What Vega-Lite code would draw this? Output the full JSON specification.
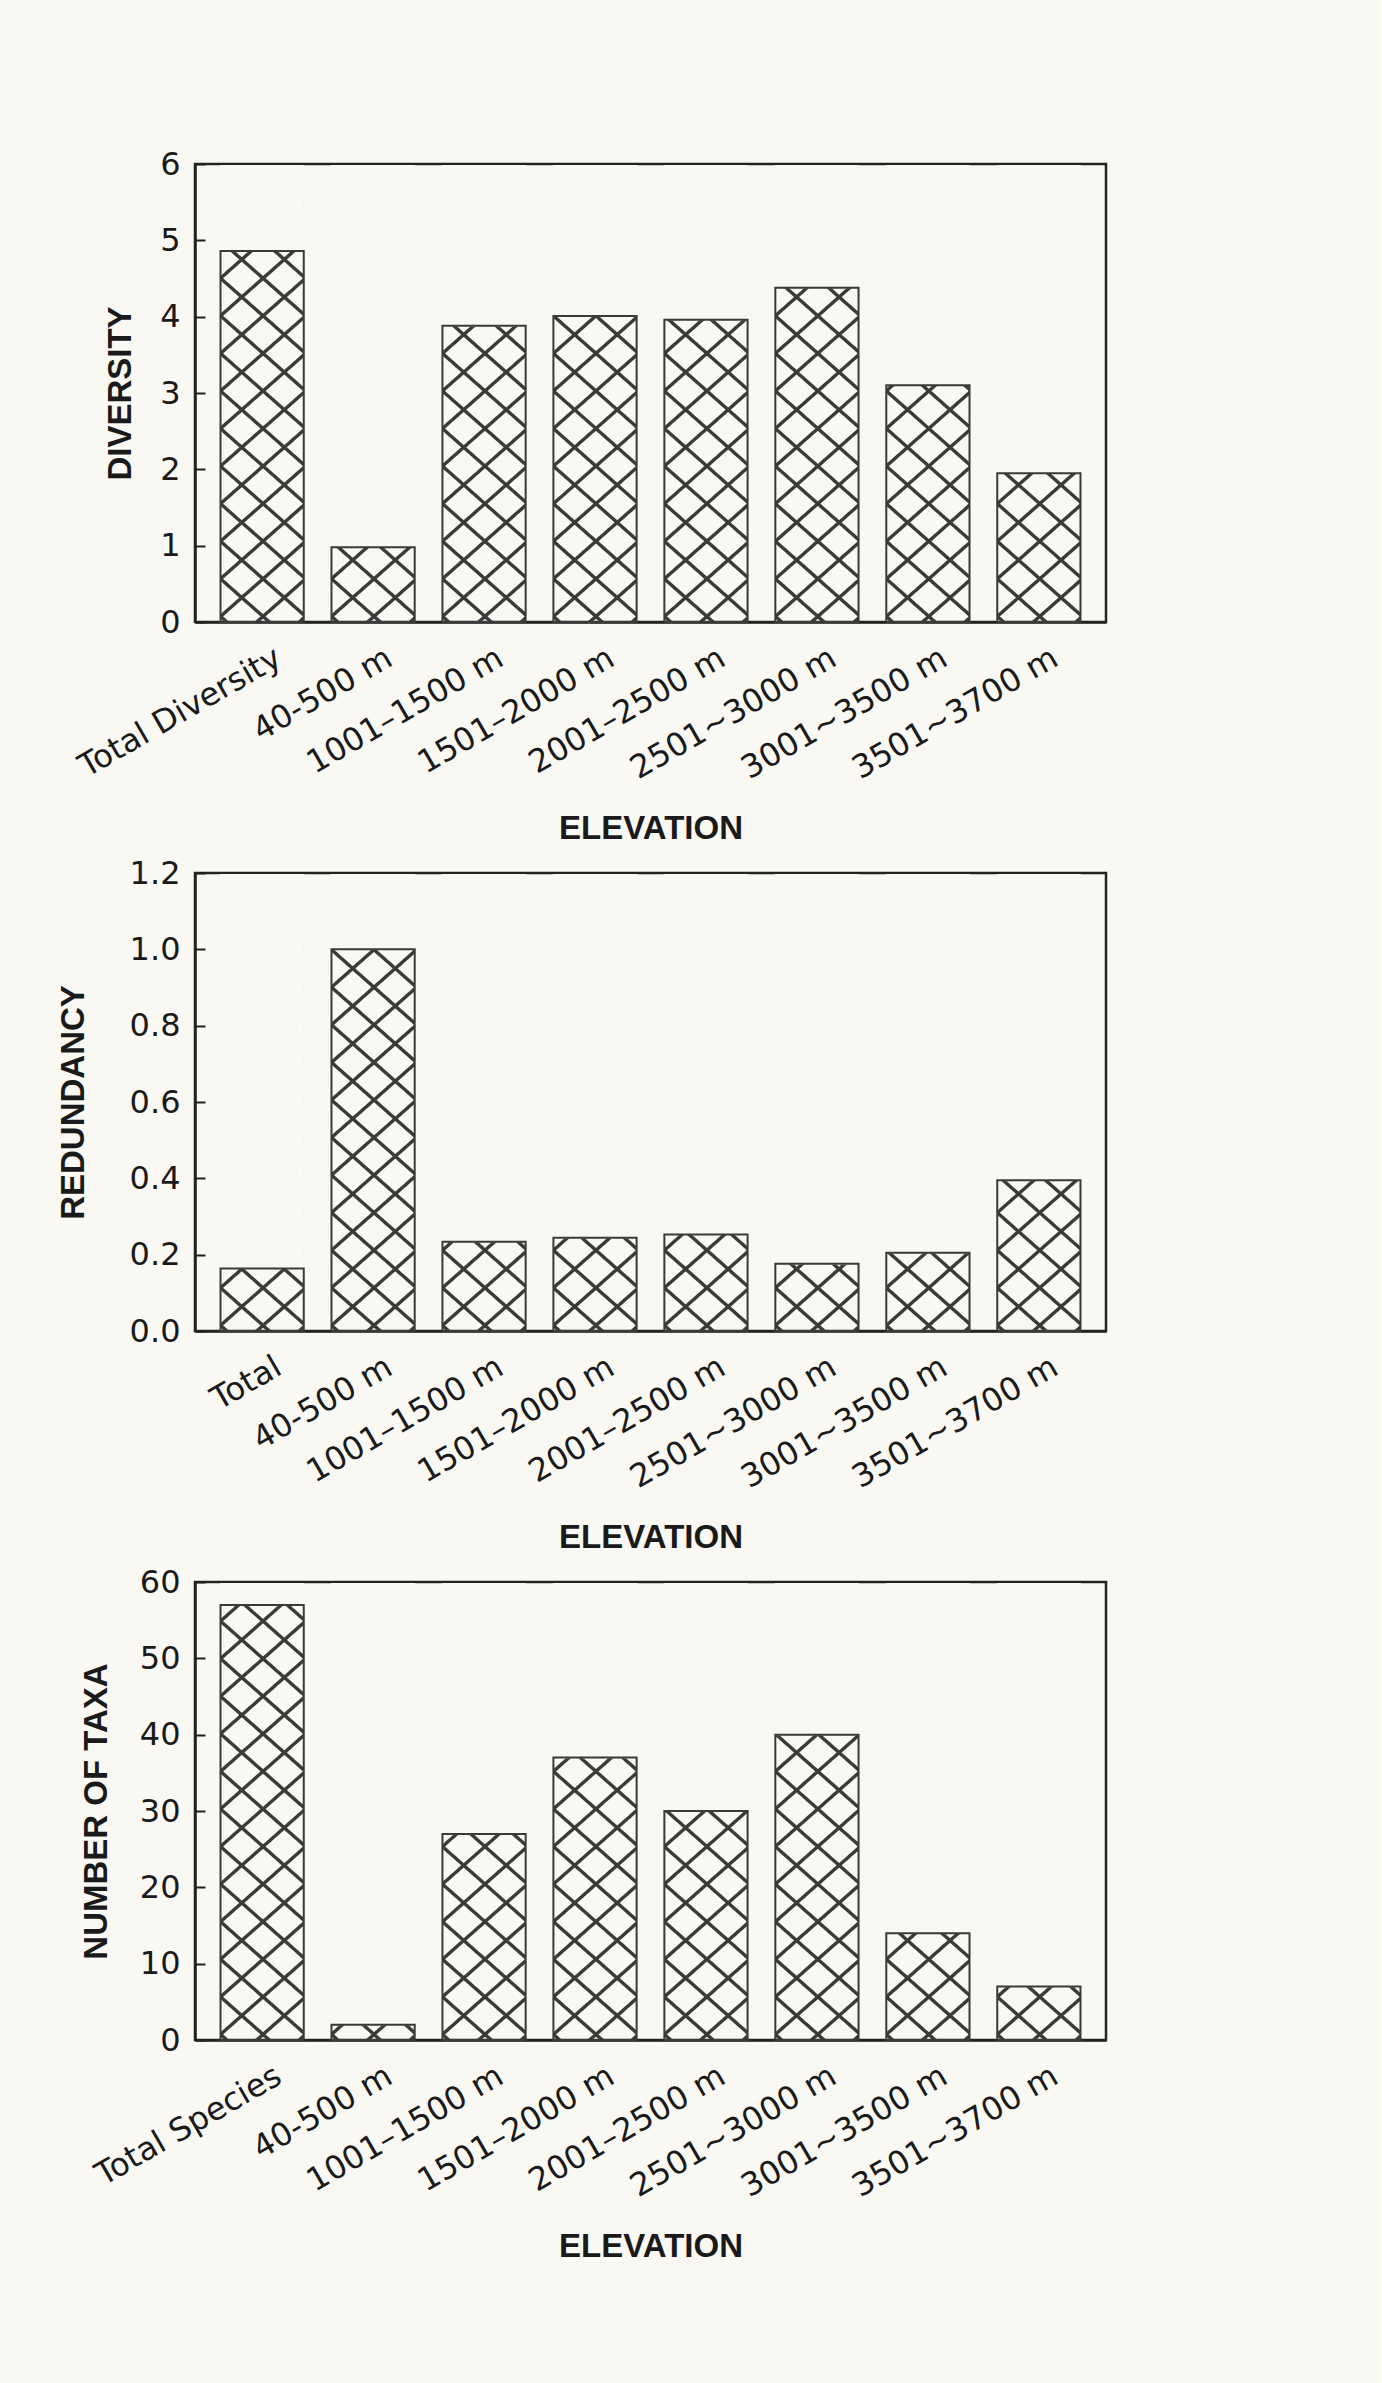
{
  "$schema": "https://vega.github.io/schema/vega-lite/v6.json",
  "background": "#f9f8f3",
  "padding": {"left": 55, "top": 146, "right": 273, "bottom": 145},
  "bounds": "flush",
  "spacing": 251,
  "config": {
    "font": "Liberation Sans",
    "view": {"stroke": "#222222", "strokeWidth": 2.5},
    "axis": {"grid": false, "zindex": 1, "domainColor": "#222222", "domainWidth": 2.5, "labelColor": "#1a1a1a", "titleColor": "#1a1a1a", "labelFont": "DejaVu Sans", "titleFont": "Liberation Sans", "titleFontWeight": "bold", "titleFontSize": 33, "labelLimit": 500},
    "axisX": {"ticks": false, "labelAngle": -30, "labelAlign": "right", "labelBaseline": "top", "labelFontSize": 32, "labelPadding": 20, "labelOffset": 9, "labelOverlap": false, "labelBound": false, "titlePadding": 28},
    "axisY": {"tickCount": 6, "tickSize": -10, "tickColor": "#222222", "tickWidth": 2, "labelFontSize": 32, "labelPadding": 25, "labelFlush": false, "labelOverlap": false, "titlePadding": 24},
    "scale": {"bandPaddingInner": 0.25, "bandPaddingOuter": 0.23}
  },
  "vconcat": [
    {
      "width": 911, "height": 458,
      "data": {"values": [
        {"elevation": "Total Diversity", "value": 4.86},
        {"elevation": "40-500 m", "value": 0.98},
        {"elevation": "1001–1500 m", "value": 3.88},
        {"elevation": "1501–2000 m", "value": 4.01},
        {"elevation": "2001–2500 m", "value": 3.96},
        {"elevation": "2501~3000 m", "value": 4.38},
        {"elevation": "3001~3500 m", "value": 3.1},
        {"elevation": "3501~3700 m", "value": 1.95}
      ]},
      "encoding": {"x": {"field": "elevation", "type": "nominal", "sort": null, "title": "ELEVATION"}},
      "layer": [
        {"mark": {"type": "bar", "stroke": null, "fill": {"gradient": "linear", "x1": 0, "y1": 0, "x2": 0.1824, "y2": 1.1318, "stops": [
          {"offset": 0, "color": "#3a3a3a"}, {"offset": 0.003, "color": "#3a3a3a"}, {"offset": 0.0055, "color": "rgba(58,58,58,0)"},
          {"offset": 0.0654, "color": "rgba(58,58,58,0)"}, {"offset": 0.0679, "color": "#3a3a3a"}, {"offset": 0.0739, "color": "#3a3a3a"}, {"offset": 0.0764, "color": "rgba(58,58,58,0)"},
          {"offset": 0.1362, "color": "rgba(58,58,58,0)"}, {"offset": 0.1388, "color": "#3a3a3a"}, {"offset": 0.1448, "color": "#3a3a3a"}, {"offset": 0.1473, "color": "rgba(58,58,58,0)"},
          {"offset": 0.2071, "color": "rgba(58,58,58,0)"}, {"offset": 0.2096, "color": "#3a3a3a"}, {"offset": 0.2157, "color": "#3a3a3a"}, {"offset": 0.2182, "color": "rgba(58,58,58,0)"},
          {"offset": 0.278, "color": "rgba(58,58,58,0)"}, {"offset": 0.2805, "color": "#3a3a3a"}, {"offset": 0.2866, "color": "#3a3a3a"}, {"offset": 0.2891, "color": "rgba(58,58,58,0)"},
          {"offset": 0.3489, "color": "rgba(58,58,58,0)"}, {"offset": 0.3514, "color": "#3a3a3a"}, {"offset": 0.3575, "color": "#3a3a3a"}, {"offset": 0.36, "color": "rgba(58,58,58,0)"},
          {"offset": 0.4198, "color": "rgba(58,58,58,0)"}, {"offset": 0.4223, "color": "#3a3a3a"}, {"offset": 0.4283, "color": "#3a3a3a"}, {"offset": 0.4309, "color": "rgba(58,58,58,0)"},
          {"offset": 0.4907, "color": "rgba(58,58,58,0)"}, {"offset": 0.4932, "color": "#3a3a3a"}, {"offset": 0.4992, "color": "#3a3a3a"}, {"offset": 0.5017, "color": "rgba(58,58,58,0)"},
          {"offset": 0.5616, "color": "rgba(58,58,58,0)"}, {"offset": 0.5641, "color": "#3a3a3a"}, {"offset": 0.5701, "color": "#3a3a3a"}, {"offset": 0.5726, "color": "rgba(58,58,58,0)"},
          {"offset": 0.6325, "color": "rgba(58,58,58,0)"}, {"offset": 0.635, "color": "#3a3a3a"}, {"offset": 0.641, "color": "#3a3a3a"}, {"offset": 0.6435, "color": "rgba(58,58,58,0)"},
          {"offset": 0.7033, "color": "rgba(58,58,58,0)"}, {"offset": 0.7059, "color": "#3a3a3a"}, {"offset": 0.7119, "color": "#3a3a3a"}, {"offset": 0.7144, "color": "rgba(58,58,58,0)"},
          {"offset": 0.7742, "color": "rgba(58,58,58,0)"}, {"offset": 0.7767, "color": "#3a3a3a"}, {"offset": 0.7828, "color": "#3a3a3a"}, {"offset": 0.7853, "color": "rgba(58,58,58,0)"},
          {"offset": 0.8451, "color": "rgba(58,58,58,0)"}, {"offset": 0.8476, "color": "#3a3a3a"}, {"offset": 0.8537, "color": "#3a3a3a"}, {"offset": 0.8562, "color": "rgba(58,58,58,0)"},
          {"offset": 0.916, "color": "rgba(58,58,58,0)"}, {"offset": 0.9185, "color": "#3a3a3a"}, {"offset": 0.9246, "color": "#3a3a3a"}, {"offset": 0.9271, "color": "rgba(58,58,58,0)"},
          {"offset": 0.9869, "color": "rgba(58,58,58,0)"}, {"offset": 0.9894, "color": "#3a3a3a"}, {"offset": 0.9954, "color": "#3a3a3a"}, {"offset": 0.9979, "color": "rgba(58,58,58,0)"},
          {"offset": 1, "color": "rgba(58,58,58,0)"}]}},
         "encoding": {"y": {"datum": 5.98, "type": "quantitative", "scale": {"domain": [0, 6], "nice": false}, "title": "DIVERSITY", "axis": {"titlePadding": 22}}, "y2": {"datum": 0}}},
        {"mark": {"type": "bar", "stroke": null, "fill": {"gradient": "linear", "x1": 0, "y1": 1, "x2": 0.1824, "y2": -0.1318, "stops": [
          {"offset": 0, "color": "rgba(58,58,58,0)"},
          {"offset": 0.005, "color": "rgba(58,58,58,0)"}, {"offset": 0.0075, "color": "#3a3a3a"}, {"offset": 0.0136, "color": "#3a3a3a"}, {"offset": 0.0161, "color": "rgba(58,58,58,0)"},
          {"offset": 0.0759, "color": "rgba(58,58,58,0)"}, {"offset": 0.0784, "color": "#3a3a3a"}, {"offset": 0.0845, "color": "#3a3a3a"}, {"offset": 0.087, "color": "rgba(58,58,58,0)"},
          {"offset": 0.1468, "color": "rgba(58,58,58,0)"}, {"offset": 0.1493, "color": "#3a3a3a"}, {"offset": 0.1554, "color": "#3a3a3a"}, {"offset": 0.1579, "color": "rgba(58,58,58,0)"},
          {"offset": 0.2177, "color": "rgba(58,58,58,0)"}, {"offset": 0.2202, "color": "#3a3a3a"}, {"offset": 0.2262, "color": "#3a3a3a"}, {"offset": 0.2288, "color": "rgba(58,58,58,0)"},
          {"offset": 0.2886, "color": "rgba(58,58,58,0)"}, {"offset": 0.2911, "color": "#3a3a3a"}, {"offset": 0.2971, "color": "#3a3a3a"}, {"offset": 0.2996, "color": "rgba(58,58,58,0)"},
          {"offset": 0.3595, "color": "rgba(58,58,58,0)"}, {"offset": 0.362, "color": "#3a3a3a"}, {"offset": 0.368, "color": "#3a3a3a"}, {"offset": 0.3705, "color": "rgba(58,58,58,0)"},
          {"offset": 0.4304, "color": "rgba(58,58,58,0)"}, {"offset": 0.4329, "color": "#3a3a3a"}, {"offset": 0.4389, "color": "#3a3a3a"}, {"offset": 0.4414, "color": "rgba(58,58,58,0)"},
          {"offset": 0.5012, "color": "rgba(58,58,58,0)"}, {"offset": 0.5038, "color": "#3a3a3a"}, {"offset": 0.5098, "color": "#3a3a3a"}, {"offset": 0.5123, "color": "rgba(58,58,58,0)"},
          {"offset": 0.5721, "color": "rgba(58,58,58,0)"}, {"offset": 0.5746, "color": "#3a3a3a"}, {"offset": 0.5807, "color": "#3a3a3a"}, {"offset": 0.5832, "color": "rgba(58,58,58,0)"},
          {"offset": 0.643, "color": "rgba(58,58,58,0)"}, {"offset": 0.6455, "color": "#3a3a3a"}, {"offset": 0.6516, "color": "#3a3a3a"}, {"offset": 0.6541, "color": "rgba(58,58,58,0)"},
          {"offset": 0.7139, "color": "rgba(58,58,58,0)"}, {"offset": 0.7164, "color": "#3a3a3a"}, {"offset": 0.7225, "color": "#3a3a3a"}, {"offset": 0.725, "color": "rgba(58,58,58,0)"},
          {"offset": 0.7848, "color": "rgba(58,58,58,0)"}, {"offset": 0.7873, "color": "#3a3a3a"}, {"offset": 0.7933, "color": "#3a3a3a"}, {"offset": 0.7959, "color": "rgba(58,58,58,0)"},
          {"offset": 0.8557, "color": "rgba(58,58,58,0)"}, {"offset": 0.8582, "color": "#3a3a3a"}, {"offset": 0.8642, "color": "#3a3a3a"}, {"offset": 0.8667, "color": "rgba(58,58,58,0)"},
          {"offset": 0.9266, "color": "rgba(58,58,58,0)"}, {"offset": 0.9291, "color": "#3a3a3a"}, {"offset": 0.9351, "color": "#3a3a3a"}, {"offset": 0.9376, "color": "rgba(58,58,58,0)"},
          {"offset": 1, "color": "rgba(58,58,58,0)"}]}},
         "encoding": {"y": {"datum": 5.98, "type": "quantitative", "scale": {"domain": [0, 6], "nice": false}, "title": "DIVERSITY", "axis": {"titlePadding": 22}}, "y2": {"datum": 0}}},
        {"mark": {"type": "bar", "fill": "#f9f8f3", "stroke": "#f9f8f3", "strokeWidth": 1.2}, "encoding": {"y": {"field": "value", "type": "quantitative", "scale": {"domain": [0, 6], "nice": false}, "title": "DIVERSITY", "axis": {"titlePadding": 22}}, "y2": {"datum": 5.98}}},
        {"mark": {"type": "bar", "fill": "transparent", "stroke": "#3a3a3a", "strokeWidth": 2}, "encoding": {"y": {"field": "value", "type": "quantitative", "scale": {"domain": [0, 6], "nice": false}, "title": "DIVERSITY", "axis": {"titlePadding": 22}}}}
      ]
    },
    {
      "width": 911, "height": 458,
      "data": {"values": [
        {"elevation": "Total", "value": 0.164},
        {"elevation": "40-500 m", "value": 1.0},
        {"elevation": "1001–1500 m", "value": 0.234},
        {"elevation": "1501–2000 m", "value": 0.244},
        {"elevation": "2001–2500 m", "value": 0.253},
        {"elevation": "2501~3000 m", "value": 0.176},
        {"elevation": "3001~3500 m", "value": 0.205},
        {"elevation": "3501~3700 m", "value": 0.395}
      ]},
      "encoding": {"x": {"field": "elevation", "type": "nominal", "sort": null, "title": "ELEVATION"}},
      "layer": [
        {"mark": {"type": "bar", "stroke": null, "fill": {"gradient": "linear", "x1": 0, "y1": 0, "x2": 0.1824, "y2": 1.1318, "stops": [
          {"offset": 0, "color": "#3a3a3a"}, {"offset": 0.003, "color": "#3a3a3a"}, {"offset": 0.0055, "color": "rgba(58,58,58,0)"},
          {"offset": 0.0654, "color": "rgba(58,58,58,0)"}, {"offset": 0.0679, "color": "#3a3a3a"}, {"offset": 0.0739, "color": "#3a3a3a"}, {"offset": 0.0764, "color": "rgba(58,58,58,0)"},
          {"offset": 0.1362, "color": "rgba(58,58,58,0)"}, {"offset": 0.1388, "color": "#3a3a3a"}, {"offset": 0.1448, "color": "#3a3a3a"}, {"offset": 0.1473, "color": "rgba(58,58,58,0)"},
          {"offset": 0.2071, "color": "rgba(58,58,58,0)"}, {"offset": 0.2096, "color": "#3a3a3a"}, {"offset": 0.2157, "color": "#3a3a3a"}, {"offset": 0.2182, "color": "rgba(58,58,58,0)"},
          {"offset": 0.278, "color": "rgba(58,58,58,0)"}, {"offset": 0.2805, "color": "#3a3a3a"}, {"offset": 0.2866, "color": "#3a3a3a"}, {"offset": 0.2891, "color": "rgba(58,58,58,0)"},
          {"offset": 0.3489, "color": "rgba(58,58,58,0)"}, {"offset": 0.3514, "color": "#3a3a3a"}, {"offset": 0.3575, "color": "#3a3a3a"}, {"offset": 0.36, "color": "rgba(58,58,58,0)"},
          {"offset": 0.4198, "color": "rgba(58,58,58,0)"}, {"offset": 0.4223, "color": "#3a3a3a"}, {"offset": 0.4283, "color": "#3a3a3a"}, {"offset": 0.4309, "color": "rgba(58,58,58,0)"},
          {"offset": 0.4907, "color": "rgba(58,58,58,0)"}, {"offset": 0.4932, "color": "#3a3a3a"}, {"offset": 0.4992, "color": "#3a3a3a"}, {"offset": 0.5017, "color": "rgba(58,58,58,0)"},
          {"offset": 0.5616, "color": "rgba(58,58,58,0)"}, {"offset": 0.5641, "color": "#3a3a3a"}, {"offset": 0.5701, "color": "#3a3a3a"}, {"offset": 0.5726, "color": "rgba(58,58,58,0)"},
          {"offset": 0.6325, "color": "rgba(58,58,58,0)"}, {"offset": 0.635, "color": "#3a3a3a"}, {"offset": 0.641, "color": "#3a3a3a"}, {"offset": 0.6435, "color": "rgba(58,58,58,0)"},
          {"offset": 0.7033, "color": "rgba(58,58,58,0)"}, {"offset": 0.7059, "color": "#3a3a3a"}, {"offset": 0.7119, "color": "#3a3a3a"}, {"offset": 0.7144, "color": "rgba(58,58,58,0)"},
          {"offset": 0.7742, "color": "rgba(58,58,58,0)"}, {"offset": 0.7767, "color": "#3a3a3a"}, {"offset": 0.7828, "color": "#3a3a3a"}, {"offset": 0.7853, "color": "rgba(58,58,58,0)"},
          {"offset": 0.8451, "color": "rgba(58,58,58,0)"}, {"offset": 0.8476, "color": "#3a3a3a"}, {"offset": 0.8537, "color": "#3a3a3a"}, {"offset": 0.8562, "color": "rgba(58,58,58,0)"},
          {"offset": 0.916, "color": "rgba(58,58,58,0)"}, {"offset": 0.9185, "color": "#3a3a3a"}, {"offset": 0.9246, "color": "#3a3a3a"}, {"offset": 0.9271, "color": "rgba(58,58,58,0)"},
          {"offset": 0.9869, "color": "rgba(58,58,58,0)"}, {"offset": 0.9894, "color": "#3a3a3a"}, {"offset": 0.9954, "color": "#3a3a3a"}, {"offset": 0.9979, "color": "rgba(58,58,58,0)"},
          {"offset": 1, "color": "rgba(58,58,58,0)"}]}},
         "encoding": {"y": {"datum": 1.196, "type": "quantitative", "scale": {"domain": [0, 1.2], "nice": false}, "title": "REDUNDANCY", "axis": {"titlePadding": 39}}, "y2": {"datum": 0}}},
        {"mark": {"type": "bar", "stroke": null, "fill": {"gradient": "linear", "x1": 0, "y1": 1, "x2": 0.1824, "y2": -0.1318, "stops": [
          {"offset": 0, "color": "rgba(58,58,58,0)"},
          {"offset": 0.005, "color": "rgba(58,58,58,0)"}, {"offset": 0.0075, "color": "#3a3a3a"}, {"offset": 0.0136, "color": "#3a3a3a"}, {"offset": 0.0161, "color": "rgba(58,58,58,0)"},
          {"offset": 0.0759, "color": "rgba(58,58,58,0)"}, {"offset": 0.0784, "color": "#3a3a3a"}, {"offset": 0.0845, "color": "#3a3a3a"}, {"offset": 0.087, "color": "rgba(58,58,58,0)"},
          {"offset": 0.1468, "color": "rgba(58,58,58,0)"}, {"offset": 0.1493, "color": "#3a3a3a"}, {"offset": 0.1554, "color": "#3a3a3a"}, {"offset": 0.1579, "color": "rgba(58,58,58,0)"},
          {"offset": 0.2177, "color": "rgba(58,58,58,0)"}, {"offset": 0.2202, "color": "#3a3a3a"}, {"offset": 0.2262, "color": "#3a3a3a"}, {"offset": 0.2288, "color": "rgba(58,58,58,0)"},
          {"offset": 0.2886, "color": "rgba(58,58,58,0)"}, {"offset": 0.2911, "color": "#3a3a3a"}, {"offset": 0.2971, "color": "#3a3a3a"}, {"offset": 0.2996, "color": "rgba(58,58,58,0)"},
          {"offset": 0.3595, "color": "rgba(58,58,58,0)"}, {"offset": 0.362, "color": "#3a3a3a"}, {"offset": 0.368, "color": "#3a3a3a"}, {"offset": 0.3705, "color": "rgba(58,58,58,0)"},
          {"offset": 0.4304, "color": "rgba(58,58,58,0)"}, {"offset": 0.4329, "color": "#3a3a3a"}, {"offset": 0.4389, "color": "#3a3a3a"}, {"offset": 0.4414, "color": "rgba(58,58,58,0)"},
          {"offset": 0.5012, "color": "rgba(58,58,58,0)"}, {"offset": 0.5038, "color": "#3a3a3a"}, {"offset": 0.5098, "color": "#3a3a3a"}, {"offset": 0.5123, "color": "rgba(58,58,58,0)"},
          {"offset": 0.5721, "color": "rgba(58,58,58,0)"}, {"offset": 0.5746, "color": "#3a3a3a"}, {"offset": 0.5807, "color": "#3a3a3a"}, {"offset": 0.5832, "color": "rgba(58,58,58,0)"},
          {"offset": 0.643, "color": "rgba(58,58,58,0)"}, {"offset": 0.6455, "color": "#3a3a3a"}, {"offset": 0.6516, "color": "#3a3a3a"}, {"offset": 0.6541, "color": "rgba(58,58,58,0)"},
          {"offset": 0.7139, "color": "rgba(58,58,58,0)"}, {"offset": 0.7164, "color": "#3a3a3a"}, {"offset": 0.7225, "color": "#3a3a3a"}, {"offset": 0.725, "color": "rgba(58,58,58,0)"},
          {"offset": 0.7848, "color": "rgba(58,58,58,0)"}, {"offset": 0.7873, "color": "#3a3a3a"}, {"offset": 0.7933, "color": "#3a3a3a"}, {"offset": 0.7959, "color": "rgba(58,58,58,0)"},
          {"offset": 0.8557, "color": "rgba(58,58,58,0)"}, {"offset": 0.8582, "color": "#3a3a3a"}, {"offset": 0.8642, "color": "#3a3a3a"}, {"offset": 0.8667, "color": "rgba(58,58,58,0)"},
          {"offset": 0.9266, "color": "rgba(58,58,58,0)"}, {"offset": 0.9291, "color": "#3a3a3a"}, {"offset": 0.9351, "color": "#3a3a3a"}, {"offset": 0.9376, "color": "rgba(58,58,58,0)"},
          {"offset": 1, "color": "rgba(58,58,58,0)"}]}},
         "encoding": {"y": {"datum": 1.196, "type": "quantitative", "scale": {"domain": [0, 1.2], "nice": false}, "title": "REDUNDANCY", "axis": {"titlePadding": 39}}, "y2": {"datum": 0}}},
        {"mark": {"type": "bar", "fill": "#f9f8f3", "stroke": "#f9f8f3", "strokeWidth": 1.2}, "encoding": {"y": {"field": "value", "type": "quantitative", "scale": {"domain": [0, 1.2], "nice": false}, "title": "REDUNDANCY", "axis": {"titlePadding": 39}}, "y2": {"datum": 1.196}}},
        {"mark": {"type": "bar", "fill": "transparent", "stroke": "#3a3a3a", "strokeWidth": 2}, "encoding": {"y": {"field": "value", "type": "quantitative", "scale": {"domain": [0, 1.2], "nice": false}, "title": "REDUNDANCY", "axis": {"titlePadding": 39}}}}
      ]
    },
    {
      "width": 911, "height": 458,
      "data": {"values": [
        {"elevation": "Total Species", "value": 57},
        {"elevation": "40-500 m", "value": 2},
        {"elevation": "1001–1500 m", "value": 27},
        {"elevation": "1501–2000 m", "value": 37},
        {"elevation": "2001–2500 m", "value": 30},
        {"elevation": "2501~3000 m", "value": 40},
        {"elevation": "3001~3500 m", "value": 14},
        {"elevation": "3501~3700 m", "value": 7}
      ]},
      "encoding": {"x": {"field": "elevation", "type": "nominal", "sort": null, "title": "ELEVATION"}},
      "layer": [
        {"mark": {"type": "bar", "stroke": null, "fill": {"gradient": "linear", "x1": 0, "y1": 0, "x2": 0.1824, "y2": 1.1318, "stops": [
          {"offset": 0, "color": "#3a3a3a"}, {"offset": 0.003, "color": "#3a3a3a"}, {"offset": 0.0055, "color": "rgba(58,58,58,0)"},
          {"offset": 0.0654, "color": "rgba(58,58,58,0)"}, {"offset": 0.0679, "color": "#3a3a3a"}, {"offset": 0.0739, "color": "#3a3a3a"}, {"offset": 0.0764, "color": "rgba(58,58,58,0)"},
          {"offset": 0.1362, "color": "rgba(58,58,58,0)"}, {"offset": 0.1388, "color": "#3a3a3a"}, {"offset": 0.1448, "color": "#3a3a3a"}, {"offset": 0.1473, "color": "rgba(58,58,58,0)"},
          {"offset": 0.2071, "color": "rgba(58,58,58,0)"}, {"offset": 0.2096, "color": "#3a3a3a"}, {"offset": 0.2157, "color": "#3a3a3a"}, {"offset": 0.2182, "color": "rgba(58,58,58,0)"},
          {"offset": 0.278, "color": "rgba(58,58,58,0)"}, {"offset": 0.2805, "color": "#3a3a3a"}, {"offset": 0.2866, "color": "#3a3a3a"}, {"offset": 0.2891, "color": "rgba(58,58,58,0)"},
          {"offset": 0.3489, "color": "rgba(58,58,58,0)"}, {"offset": 0.3514, "color": "#3a3a3a"}, {"offset": 0.3575, "color": "#3a3a3a"}, {"offset": 0.36, "color": "rgba(58,58,58,0)"},
          {"offset": 0.4198, "color": "rgba(58,58,58,0)"}, {"offset": 0.4223, "color": "#3a3a3a"}, {"offset": 0.4283, "color": "#3a3a3a"}, {"offset": 0.4309, "color": "rgba(58,58,58,0)"},
          {"offset": 0.4907, "color": "rgba(58,58,58,0)"}, {"offset": 0.4932, "color": "#3a3a3a"}, {"offset": 0.4992, "color": "#3a3a3a"}, {"offset": 0.5017, "color": "rgba(58,58,58,0)"},
          {"offset": 0.5616, "color": "rgba(58,58,58,0)"}, {"offset": 0.5641, "color": "#3a3a3a"}, {"offset": 0.5701, "color": "#3a3a3a"}, {"offset": 0.5726, "color": "rgba(58,58,58,0)"},
          {"offset": 0.6325, "color": "rgba(58,58,58,0)"}, {"offset": 0.635, "color": "#3a3a3a"}, {"offset": 0.641, "color": "#3a3a3a"}, {"offset": 0.6435, "color": "rgba(58,58,58,0)"},
          {"offset": 0.7033, "color": "rgba(58,58,58,0)"}, {"offset": 0.7059, "color": "#3a3a3a"}, {"offset": 0.7119, "color": "#3a3a3a"}, {"offset": 0.7144, "color": "rgba(58,58,58,0)"},
          {"offset": 0.7742, "color": "rgba(58,58,58,0)"}, {"offset": 0.7767, "color": "#3a3a3a"}, {"offset": 0.7828, "color": "#3a3a3a"}, {"offset": 0.7853, "color": "rgba(58,58,58,0)"},
          {"offset": 0.8451, "color": "rgba(58,58,58,0)"}, {"offset": 0.8476, "color": "#3a3a3a"}, {"offset": 0.8537, "color": "#3a3a3a"}, {"offset": 0.8562, "color": "rgba(58,58,58,0)"},
          {"offset": 0.916, "color": "rgba(58,58,58,0)"}, {"offset": 0.9185, "color": "#3a3a3a"}, {"offset": 0.9246, "color": "#3a3a3a"}, {"offset": 0.9271, "color": "rgba(58,58,58,0)"},
          {"offset": 0.9869, "color": "rgba(58,58,58,0)"}, {"offset": 0.9894, "color": "#3a3a3a"}, {"offset": 0.9954, "color": "#3a3a3a"}, {"offset": 0.9979, "color": "rgba(58,58,58,0)"},
          {"offset": 1, "color": "rgba(58,58,58,0)"}]}},
         "encoding": {"y": {"datum": 59.8, "type": "quantitative", "scale": {"domain": [0, 60], "nice": false}, "title": "NUMBER OF TAXA", "axis": {"titlePadding": 26}}, "y2": {"datum": 0}}},
        {"mark": {"type": "bar", "stroke": null, "fill": {"gradient": "linear", "x1": 0, "y1": 1, "x2": 0.1824, "y2": -0.1318, "stops": [
          {"offset": 0, "color": "rgba(58,58,58,0)"},
          {"offset": 0.005, "color": "rgba(58,58,58,0)"}, {"offset": 0.0075, "color": "#3a3a3a"}, {"offset": 0.0136, "color": "#3a3a3a"}, {"offset": 0.0161, "color": "rgba(58,58,58,0)"},
          {"offset": 0.0759, "color": "rgba(58,58,58,0)"}, {"offset": 0.0784, "color": "#3a3a3a"}, {"offset": 0.0845, "color": "#3a3a3a"}, {"offset": 0.087, "color": "rgba(58,58,58,0)"},
          {"offset": 0.1468, "color": "rgba(58,58,58,0)"}, {"offset": 0.1493, "color": "#3a3a3a"}, {"offset": 0.1554, "color": "#3a3a3a"}, {"offset": 0.1579, "color": "rgba(58,58,58,0)"},
          {"offset": 0.2177, "color": "rgba(58,58,58,0)"}, {"offset": 0.2202, "color": "#3a3a3a"}, {"offset": 0.2262, "color": "#3a3a3a"}, {"offset": 0.2288, "color": "rgba(58,58,58,0)"},
          {"offset": 0.2886, "color": "rgba(58,58,58,0)"}, {"offset": 0.2911, "color": "#3a3a3a"}, {"offset": 0.2971, "color": "#3a3a3a"}, {"offset": 0.2996, "color": "rgba(58,58,58,0)"},
          {"offset": 0.3595, "color": "rgba(58,58,58,0)"}, {"offset": 0.362, "color": "#3a3a3a"}, {"offset": 0.368, "color": "#3a3a3a"}, {"offset": 0.3705, "color": "rgba(58,58,58,0)"},
          {"offset": 0.4304, "color": "rgba(58,58,58,0)"}, {"offset": 0.4329, "color": "#3a3a3a"}, {"offset": 0.4389, "color": "#3a3a3a"}, {"offset": 0.4414, "color": "rgba(58,58,58,0)"},
          {"offset": 0.5012, "color": "rgba(58,58,58,0)"}, {"offset": 0.5038, "color": "#3a3a3a"}, {"offset": 0.5098, "color": "#3a3a3a"}, {"offset": 0.5123, "color": "rgba(58,58,58,0)"},
          {"offset": 0.5721, "color": "rgba(58,58,58,0)"}, {"offset": 0.5746, "color": "#3a3a3a"}, {"offset": 0.5807, "color": "#3a3a3a"}, {"offset": 0.5832, "color": "rgba(58,58,58,0)"},
          {"offset": 0.643, "color": "rgba(58,58,58,0)"}, {"offset": 0.6455, "color": "#3a3a3a"}, {"offset": 0.6516, "color": "#3a3a3a"}, {"offset": 0.6541, "color": "rgba(58,58,58,0)"},
          {"offset": 0.7139, "color": "rgba(58,58,58,0)"}, {"offset": 0.7164, "color": "#3a3a3a"}, {"offset": 0.7225, "color": "#3a3a3a"}, {"offset": 0.725, "color": "rgba(58,58,58,0)"},
          {"offset": 0.7848, "color": "rgba(58,58,58,0)"}, {"offset": 0.7873, "color": "#3a3a3a"}, {"offset": 0.7933, "color": "#3a3a3a"}, {"offset": 0.7959, "color": "rgba(58,58,58,0)"},
          {"offset": 0.8557, "color": "rgba(58,58,58,0)"}, {"offset": 0.8582, "color": "#3a3a3a"}, {"offset": 0.8642, "color": "#3a3a3a"}, {"offset": 0.8667, "color": "rgba(58,58,58,0)"},
          {"offset": 0.9266, "color": "rgba(58,58,58,0)"}, {"offset": 0.9291, "color": "#3a3a3a"}, {"offset": 0.9351, "color": "#3a3a3a"}, {"offset": 0.9376, "color": "rgba(58,58,58,0)"},
          {"offset": 1, "color": "rgba(58,58,58,0)"}]}},
         "encoding": {"y": {"datum": 59.8, "type": "quantitative", "scale": {"domain": [0, 60], "nice": false}, "title": "NUMBER OF TAXA", "axis": {"titlePadding": 26}}, "y2": {"datum": 0}}},
        {"mark": {"type": "bar", "fill": "#f9f8f3", "stroke": "#f9f8f3", "strokeWidth": 1.2}, "encoding": {"y": {"field": "value", "type": "quantitative", "scale": {"domain": [0, 60], "nice": false}, "title": "NUMBER OF TAXA", "axis": {"titlePadding": 26}}, "y2": {"datum": 59.8}}},
        {"mark": {"type": "bar", "fill": "transparent", "stroke": "#3a3a3a", "strokeWidth": 2}, "encoding": {"y": {"field": "value", "type": "quantitative", "scale": {"domain": [0, 60], "nice": false}, "title": "NUMBER OF TAXA", "axis": {"titlePadding": 26}}}}
      ]
    }
  ]
}
